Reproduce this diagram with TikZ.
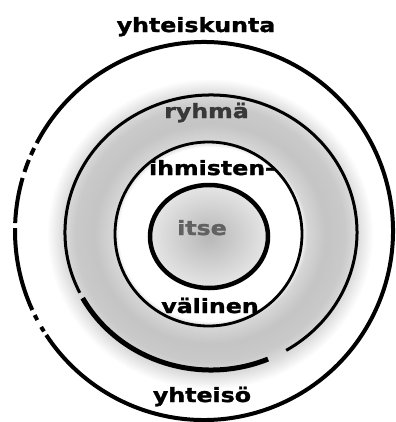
\documentclass[tikz,border=0pt]{standalone}
\usepackage{fontspec}
\newfontfamily\ringfont[FakeStretch=1.2, FakeBold=1.6]{DejaVu Sans Bold}
\usetikzlibrary{positioning}
\usepackage{xcolor}

% soft grey band between the middle rings, fading out on both sides
\pgfdeclareradialshading{ringglow}{\pgfpoint{0bp}{0bp}}{%
  color(0bp)=(white); color(13.4bp)=(white); color(14.3bp)=(black!16);
  color(17bp)=(black!23); color(19.8bp)=(black!21); color(21.6bp)=(black!14);
  color(24bp)=(white); color(50bp)=(white)}

\tikzset{
  outerring/.style={line width=4bp, black},
  groupring/.style={line width=3bp, black},
  pairring/.style={line width=2.8bp, black},
  selfring/.style={line width=4.5bp, black},
  ringlabel/.style={inner sep=0pt, anchor=base}
}

\begin{document}
\begin{tikzpicture}[x=1bp, y=-1bp, font={\ringfont\fontsize{19.8}{22}\selectfont}]
\useasboundingbox (0,0) rectangle (396,422);

% Shading
\shade[shading=ringglow] (210,234) ellipse [x radius=170, y radius=162];
\shade[inner color=black!28, outer color=black!10] (209,236.5) ellipse [x radius=59, y radius=51.5];

% Outer ring (yhteiskunta), broken on the left
\foreach \a/\b in {207.7/506.6, 203.7/206.0, 198.2/202.1, 182.4/196.3, 155.3/180.9, 151.9/153.6, 147.9/149.5}
  \draw[outerring] (204,231) ++(\a:189) arc[start angle=\a, end angle=\b, radius=189];

% Group ring (ryhmä)
\draw[groupring] (211,232.5) ++(154:146 and 137.5) arc[start angle=154, end angle=419, x radius=146, y radius=137.5];
\draw[groupring, line width=5bp] (211,232.5) ++(67:146 and 137.5) arc[start angle=67, end angle=151.5, x radius=146, y radius=137.5];

% Interpersonal ring (ihmisten-välinen)
\draw[pairring] (208.5,234) ellipse [x radius=93.5, y radius=92];

% Self
\draw[selfring] (209,236.5) ellipse [x radius=59, y radius=51.5];

% Labels
\node[ringlabel] (society) at (196,32) {yhteiskunta};
\node[ringlabel, text=black!78] (group) at (206.5,118) {ryhmä};
\node[ringlabel] (between1) at (212,175) {ihmisten-};
\node[ringlabel, text=black!62] (self) at (202,235) {itse};
\node[ringlabel] (between2) at (210,313) {välinen};
\node[ringlabel] (community) at (202,402) {yhteisö};
\end{tikzpicture}
\end{document}
